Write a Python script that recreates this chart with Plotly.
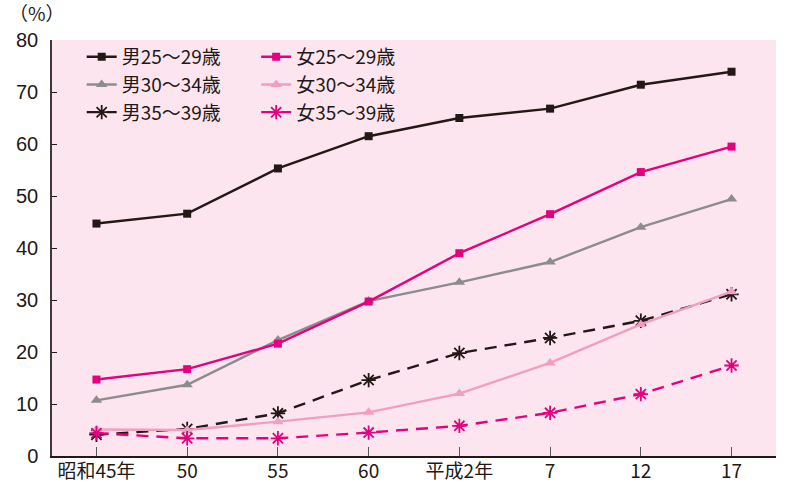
import plotly.graph_objects as go

categories = ["昭和45年", "50", "55", "60", "平成2年", "7", "12", "17"]
male_25_29 = [44.7, 46.6, 55.3, 61.5, 65.0, 66.8, 71.4, 73.9]
female_25_29 = [14.7, 16.7, 21.6, 29.7, 39.0, 46.5, 54.6, 59.5]
male_30_34 = [10.7, 13.7, 22.3, 29.8, 33.4, 37.3, 44.0, 49.4]
female_30_34 = [5.1, 5.0, 6.6, 8.4, 12.0, 17.9, 25.3, 31.6]
male_35_39 = [4.1, 5.2, 8.2, 14.6, 19.8, 22.7, 26.0, 31.1]
female_35_39 = [4.4, 3.4, 3.4, 4.5, 5.8, 8.3, 11.9, 17.4]

BLACK = "#231815"
PINK = "#e4007f"
GRAY = "#8c8c8c"
LPINK = "#f19ec2"

x = list(range(len(categories)))

fig = go.Figure()

def add(name, y, color, symbol, size, dash, legend):
    asterisk = symbol.startswith("asterisk")
    fig.add_trace(go.Scatter(
        x=x, y=y, name=name, mode="lines+markers",
        line=dict(color=color, width=2.4, dash=dash),
        marker=dict(symbol=symbol, size=size, color=color,
                    line=dict(color=color, width=1.8 if asterisk else 0)),
        legend=legend,
    ))

add("男25～29歳", male_25_29, BLACK, "square", 8, "solid", "legend")
add("男30～34歳", male_30_34, GRAY, "triangle-up", 10, "solid", "legend")
add("男35～39歳", male_35_39, BLACK, "asterisk-open", 12, "12px,8px", "legend")
add("女25～29歳", female_25_29, PINK, "square", 8, "solid", "legend2")
add("女30～34歳", female_30_34, LPINK, "triangle-up", 10, "solid", "legend2")
add("女35～39歳", female_35_39, PINK, "asterisk-open", 12, "12px,8px", "legend2")

font = dict(family="Liberation Sans, Arial, sans-serif", size=20, color="#231815")
cjkfont = dict(family="Noto Sans CJK JP, Liberation Sans, sans-serif", size=19, color="#231815")
legfont = dict(family="Noto Sans CJK JP, Liberation Sans, sans-serif", size=19, color="#231815")

fig.update_layout(
    width=785, height=484,
    margin=dict(l=52, r=9, t=40, b=28),
    paper_bgcolor="white",
    plot_bgcolor="#fce5ef",
    font=font,
    showlegend=True,
    legend=dict(x=0.041, y=1.005, xanchor="left", yanchor="top",
                bgcolor="rgba(0,0,0,0)", font=legfont, tracegroupgap=0,
                itemwidth=30),
    legend2=dict(x=0.282, y=1.005, xanchor="left", yanchor="top",
                 bgcolor="rgba(0,0,0,0)", font=legfont, tracegroupgap=0,
                 itemwidth=30),
    xaxis=dict(
        range=[-0.49, 7.49], tickmode="array", tickvals=x, ticktext=categories,
        showgrid=False, zeroline=False, showline=True, linecolor="#231815", linewidth=2,
        ticks="inside", ticklen=9, tickcolor="#595757", tickwidth=1.2,
        tickfont=cjkfont, automargin=False, ticklabelstandoff=-3,
    ),
    yaxis=dict(
        range=[0, 80], tickmode="array", tickvals=list(range(0, 81, 10)),
        showgrid=False, zeroline=False, showline=True, linecolor="#3e3a39", linewidth=1.5,
        ticks="inside", ticklen=5, tickcolor="#231815", tickwidth=1.2,
        tickfont=font, ticklabelstandoff=8, automargin=False,
    ),
    annotations=[dict(text="（%）", xref="paper", yref="paper", x=-0.062, y=1.0,
                      xanchor="left", yanchor="bottom", yshift=12, showarrow=False,
                      font=dict(family="Noto Sans CJK JP, sans-serif", size=19, color="#231815"))],
)

# Remove the page's default 8px body margin so the figure fills the window exactly.
fig.write_html("out.html",
               config={"displayModeBar": False},
               post_script="document.body.style.margin='0';document.body.style.padding='0';")
